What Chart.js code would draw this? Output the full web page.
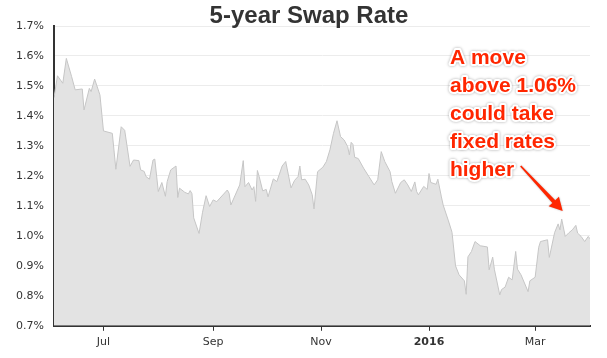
<!DOCTYPE html>
<html>
<head>
<meta charset="utf-8">
<title>5-year Swap Rate</title>
<script src="https://cdn.jsdelivr.net/npm/chart.js@4.4.1/dist/chart.umd.min.js"></script>
<style>
  html, body { margin: 0; padding: 0; background: #fff; }
</style>
</head>
<body>
<canvas id="swap-chart" width="607" height="358"></canvas>
<script>
(function () {
    "use strict";

    // Data (5-year swap rate, %)
    var dates = [
        "2015-06-03", "2015-06-05", "2015-06-08", "2015-06-10", "2015-06-13", "2015-06-15",
        "2015-06-19", "2015-06-20", "2015-06-23", "2015-06-24", "2015-06-26", "2015-06-29",
        "2015-07-01", "2015-07-06", "2015-07-08", "2015-07-11", "2015-07-13", "2015-07-16",
        "2015-07-18", "2015-07-21", "2015-07-22", "2015-07-24", "2015-07-25", "2015-07-27",
        "2015-07-29", "2015-07-30", "2015-08-01", "2015-08-03", "2015-08-05", "2015-08-06",
        "2015-08-08", "2015-08-11", "2015-08-12", "2015-08-13", "2015-08-16", "2015-08-18",
        "2015-08-19", "2015-08-20", "2015-08-21", "2015-08-24", "2015-08-26", "2015-08-28",
        "2015-08-30", "2015-09-01", "2015-09-03", "2015-09-09", "2015-09-10", "2015-09-11",
        "2015-09-16", "2015-09-18", "2015-09-19", "2015-09-21", "2015-09-23", "2015-09-24",
        "2015-09-25", "2015-09-26", "2015-09-27", "2015-09-29", "2015-10-01", "2015-10-02",
        "2015-10-05", "2015-10-07", "2015-10-10", "2015-10-12", "2015-10-15", "2015-10-17",
        "2015-10-19", "2015-10-20", "2015-10-21", "2015-10-23", "2015-10-25", "2015-10-27",
        "2015-10-28", "2015-10-30", "2015-11-02", "2015-11-04", "2015-11-06", "2015-11-08",
        "2015-11-10", "2015-11-12", "2015-11-14", "2015-11-16", "2015-11-17", "2015-11-18",
        "2015-11-19", "2015-11-20", "2015-11-22", "2015-11-25", "2015-11-28", "2015-12-01",
        "2015-12-03", "2015-12-05", "2015-12-07", "2015-12-10", "2015-12-11", "2015-12-13",
        "2015-12-16", "2015-12-18", "2015-12-20", "2015-12-22", "2015-12-24", "2015-12-25",
        "2015-12-26", "2015-12-29", "2015-12-31", "2016-01-01", "2016-01-02", "2016-01-05",
        "2016-01-06", "2016-01-08", "2016-01-09", "2016-01-12", "2016-01-14", "2016-01-16",
        "2016-01-18", "2016-01-21", "2016-01-22", "2016-01-23", "2016-01-25", "2016-01-27",
        "2016-01-30", "2016-02-03", "2016-02-04", "2016-02-06", "2016-02-07", "2016-02-10",
        "2016-02-11", "2016-02-13", "2016-02-15", "2016-02-17", "2016-02-19", "2016-02-20",
        "2016-02-22", "2016-02-26", "2016-02-27", "2016-03-01", "2016-03-03", "2016-03-04",
        "2016-03-08", "2016-03-09", "2016-03-12", "2016-03-14", "2016-03-15", "2016-03-16",
        "2016-03-18", "2016-03-20", "2016-03-22", "2016-03-24", "2016-03-25", "2016-03-27",
        "2016-03-29", "2016-03-31", "2016-04-01"
    ];
    var rates = [
        1.46, 1.534, 1.509, 1.592, 1.531, 1.487,
        1.49, 1.42, 1.492, 1.481, 1.523, 1.47,
        1.35, 1.342, 1.222, 1.364, 1.352, 1.232,
        1.253, 1.251, 1.22, 1.215, 1.198, 1.189,
        1.253, 1.256, 1.148, 1.178, 1.132, 1.181,
        1.22, 1.233, 1.128, 1.159, 1.145, 1.14,
        1.151, 1.141, 1.06, 1.008, 1.079, 1.134,
        1.098, 1.12, 1.114, 1.153, 1.142, 1.103,
        1.17, 1.251, 1.164, 1.178, 1.153, 1.164,
        1.115, 1.218, 1.198, 1.15, 1.155, 1.13,
        1.19, 1.181, 1.233, 1.248, 1.16, 1.185,
        1.198, 1.233, 1.187, 1.189, 1.17, 1.137,
        1.09, 1.214, 1.229, 1.248, 1.287, 1.342,
        1.384, 1.331, 1.32, 1.298, 1.27, 1.312,
        1.305, 1.262, 1.258, 1.226, 1.198, 1.17,
        1.187, 1.281, 1.248, 1.214, 1.181, 1.142,
        1.178, 1.187, 1.17, 1.148, 1.18, 1.148,
        1.137, 1.165, 1.155, 1.208, 1.178, 1.172,
        1.189, 1.13, 1.103, 1.05, 1.012, 0.9,
        0.87, 0.85, 0.805, 0.93, 0.948, 0.981,
        0.967, 0.963, 0.887, 0.929, 0.887, 0.803,
        0.821, 0.829, 0.862, 0.853, 0.948, 0.889,
        0.87, 0.814, 0.85, 0.862, 0.962, 0.981,
        0.987, 0.928, 1.011, 1.04, 1.02, 1.056,
        0.998, 1.01, 1.02, 1.035, 1.009, 0.998,
        0.981, 0.998, 0.99
    ];

    // x axis ticks
    var tickDates = ["2015-07-01", "2015-09-01", "2015-11-01", "2016-01-01", "2016-03-01"];
    var tickLabels = ["Jul", "Sep", "Nov", "2016", "Mar"];

    // y axis range
    var yMin = 0.7;
    var yMax = 1.7;
    var yStep = 0.1;

    // Callout text
    var calloutLines = ["A move", "above 1.06%", "could take", "fixed rates", "higher"];
    var calloutDate = "2016-03-16";

    // days counted from 1 Jul 2015
    var base = Date.UTC(2015, 6, 1);
    function dayOf(s) {
        var p = s.split("-");
        return Math.round((Date.UTC(+p[0], +p[1] - 1, +p[2]) - base) / 864e5);
    }

    var points = dates.map(function (d, i) {
        return { x: dayOf(d), y: rates[i] };
    });

    var labelFont = "'DejaVu Sans', Verdana, sans-serif";
    var headFont = "'Liberation Sans', Arial, Helvetica, sans-serif";

    // Red callout with arrow
    var callout = {
        id: "callout",
        afterLayout: function (chart) {
            // title sits a little right of the canvas centre
            if (chart.titleBlock) {
                chart.titleBlock.left += 11;
                chart.titleBlock.right += 11;
            }
        },
        afterDraw: function (chart) {
            var ctx = chart.ctx;
            var area = chart.chartArea;
            var xs = chart.scales.x, ys = chart.scales.y;
            var idx = dates.indexOf(calloutDate);
            var red = "#ff2600";

            ctx.save();
            ctx.font = "bold 21px " + headFont;
            ctx.textBaseline = "alphabetic";
            ctx.lineJoin = "round";
            var tx = area.left + 396;
            var ty = area.top + 38;
            calloutLines.forEach(function (line, i) {
                var y = ty + i * 28;
                ctx.shadowColor = "rgba(0,0,0,0.35)";
                ctx.shadowBlur = 3;
                ctx.strokeStyle = "#fff";
                ctx.lineWidth = 4;
                ctx.strokeText(line, tx, y);
                ctx.shadowColor = "transparent";
                ctx.fillStyle = red;
                ctx.fillText(line, tx, y);
            });

            // arrow pointing at the March high
            var tip = { x: xs.getPixelForValue(points[idx].x) + 1, y: ys.getPixelForValue(points[idx].y) - 8 };
            var start = { x: tip.x - 42, y: tip.y - 45 };
            var dx = tip.x - start.x, dy = tip.y - start.y;
            var len = Math.sqrt(dx * dx + dy * dy);
            var ux = dx / len, uy = dy / len;
            var nx = -uy, ny = ux;
            var hl = 13, hw = 7;
            var bx = tip.x - ux * hl, by = tip.y - uy * hl;
            ctx.beginPath();
            ctx.moveTo(start.x + nx * 0.8, start.y + ny * 0.8);
            ctx.lineTo(bx + nx * 2, by + ny * 2);
            ctx.lineTo(bx + nx * hw, by + ny * hw);
            ctx.lineTo(tip.x, tip.y);
            ctx.lineTo(bx - nx * hw, by - ny * hw);
            ctx.lineTo(bx - nx * 2, by - ny * 2);
            ctx.lineTo(start.x - nx * 0.8, start.y - ny * 0.8);
            ctx.closePath();
            ctx.shadowColor = "rgba(0,0,0,0.3)";
            ctx.shadowBlur = 2;
            ctx.fillStyle = red;
            ctx.fill();
            ctx.restore();
        }
    };

    new Chart(document.getElementById("swap-chart"), {
        type: "line",
        data: {
            datasets: [{
                label: "5-year Swap Rate",
                data: points,
                borderColor: "#c6c6c6",
                borderWidth: 1,
                backgroundColor: "#e3e3e3",
                fill: "start",
                pointRadius: 0,
                tension: 0
            }]
        },
        options: {
            responsive: false,
            animation: false,
            layout: { padding: { left: 6, right: 17, top: 0, bottom: 4 } },
            plugins: {
                legend: { display: false },
                tooltip: { enabled: false },
                title: {
                    display: true,
                    text: "5-year Swap Rate",
                    color: "#333",
                    font: { family: headFont, size: 24, weight: "bold", lineHeight: 1 },
                    padding: { top: 4, bottom: -2 }
                }
            },
            scales: {
                x: {
                    type: "linear",
                    min: dayOf(dates[0]),
                    max: dayOf(dates[dates.length - 1]),
                    afterBuildTicks: function (scale) {
                        scale.ticks = tickDates.map(function (d) { return { value: dayOf(d) }; });
                    },
                    grid: {
                        drawOnChartArea: false,
                        drawTicks: true,
                        tickLength: 5,
                        tickColor: "#333",
                        color: "#333"
                    },
                    border: { color: "#333", width: 2 },
                    ticks: {
                        color: "#333",
                        maxRotation: 0,
                        autoSkip: false,
                        padding: 5,
                        font: function (c) {
                            var bold = c.tick && c.tick.label === "2016";
                            return { family: labelFont, size: 11, weight: bold ? "bold" : "normal" };
                        },
                        callback: function (value, index) {
                            return tickLabels[index];
                        }
                    }
                },
                y: {
                    min: yMin,
                    max: yMax,
                    z: 1,
                    grid: {
                        color: "#ececec",
                        drawTicks: false
                    },
                    border: { color: "#333", width: 2 },
                    ticks: {
                        stepSize: yStep,
                        color: "#333",
                        padding: 10,
                        font: { family: labelFont, size: 11 },
                        callback: function (v) { return v.toFixed(1) + "%"; }
                    }
                }
            }
        },
        plugins: [callout]
    });
})();
</script>
</body>
</html>
